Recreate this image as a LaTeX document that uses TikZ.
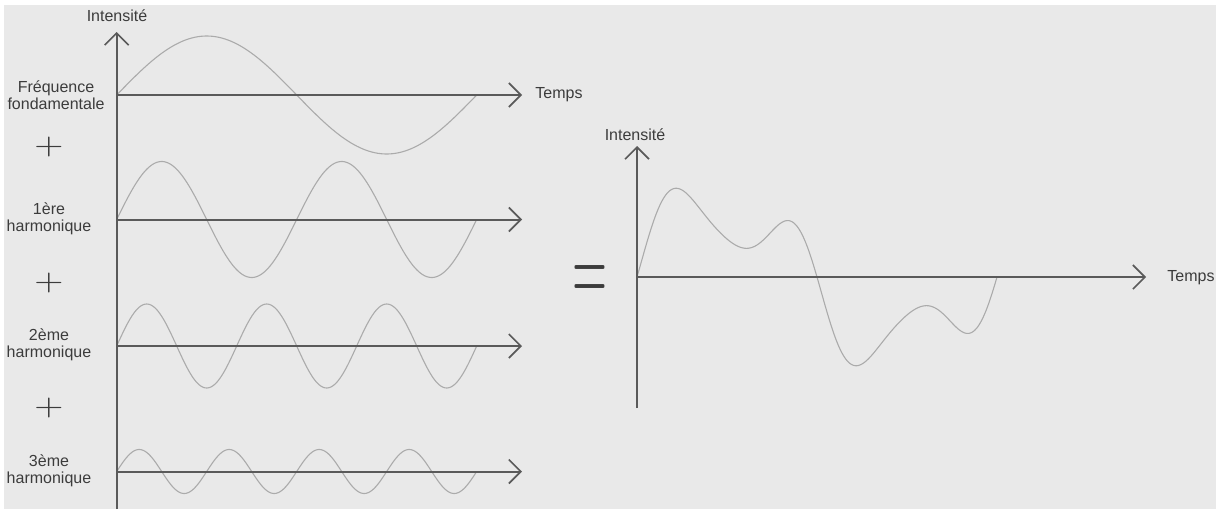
\documentclass[tikz,border=0pt]{standalone}
\usepackage{fontspec}
\setmainfont{Liberation Sans}
\usetikzlibrary{arrows.meta}
\definecolor{bgc}{HTML}{E9E9E9}
\definecolor{axc}{HTML}{5A5A5A}
\definecolor{wavec}{HTML}{ABABAB}
\definecolor{txtc}{HTML}{3C3C3C}
\begin{document}
\begin{tikzpicture}[x=0.5pt,y=-0.5pt,
  axis/.style={draw=axc, line width=1pt, -{Straight Barb[length=6pt,width=12pt,line width=0.8pt]}},
  wave/.style={draw=wavec, line width=0.55pt},
  lbl/.style={text=txtc, font=\fontsize{8}{8.4}\selectfont, align=center, inner sep=0pt},
  sign/.style={text=txtc, inner sep=0pt}]
\useasboundingbox (0,0) rectangle (1216,509);
\fill[white] (0,0) rectangle (1216,509);
\fill[bgc] (4,5) rectangle (1216,509);

% left axes
\coordinate (vb) at (116.7,509);
\coordinate (vt) at (116.7,32);
\coordinate (o1) at (116.7,95);
\coordinate (t1) at (522,95);
\coordinate (o2) at (116.7,219.5);
\coordinate (t2) at (522,219.5);
\coordinate (o3) at (116.7,346);
\coordinate (t3) at (522,346);
\coordinate (o4) at (116.7,471.5);
\coordinate (t4) at (522,471.5);

% waves
\draw[wave] plot[domain=0:360, samples=121] ({116.7+\x}, {95-59*sin(\x)});
\draw[wave] plot[domain=0:360, samples=181] ({116.7+\x}, {219.5-58*sin(2*\x)});
\draw[wave] plot[domain=0:360, samples=241] ({116.7+\x}, {346-42*sin(3*\x)});
\draw[wave] plot[domain=0:360, samples=301] ({116.7+\x}, {471.5-22*sin(4*\x)});

\draw[axis] (vb) -- (vt);
\draw[axis] (o1) -- (t1);
\draw[axis] (o2) -- (t2);
\draw[axis] (o3) -- (t3);
\draw[axis] (o4) -- (t4);

\node[lbl] (int1) at (117,16) {Intensité};
\node[lbl, anchor=west] (tmp1) at (535,95) {Temps};
\node[lbl] (lf) at (56,95) {Fréquence\\fondamentale};
\node[lbl] (l1) at (49,219) {1ère\\harmonique};
\node[lbl] (l2) at (49,345) {2ème\\harmonique};
\node[lbl] (l3) at (49,471) {3ème\\harmonique};

\node[sign] (p1) at (49,147) {\scalebox{1.9}[1.5]{$+$}};
\node[sign] (p2) at (49,283) {\scalebox{1.9}[1.5]{$+$}};
\node[sign] (p3) at (49,408) {\scalebox{1.9}[1.5]{$+$}};

% right plot
\coordinate (rvb) at (637,408);
\coordinate (rvt) at (637,146);
\coordinate (ro) at (637,277);
\coordinate (rt) at (1146,277);
\draw[wave] plot[domain=0:360, samples=361]
  ({637+\x}, {277-(66*sin(\x)+34*sin(3*\x)+6*sin(5*\x)+14.5*cos(\x)-13.3*cos(3*\x)-1.2*cos(5*\x))});
\draw[axis] (rvb) -- (rvt);
\draw[axis] (ro) -- (rt);
\node[lbl] (int2) at (635,135) {Intensité};
\node[lbl, anchor=west] (tmp2) at (1167,278) {Temps};
\node[sign] (eq) at (590,284) {\scalebox{2.25}[4.9]{$=$}};
\end{tikzpicture}
\end{document}
